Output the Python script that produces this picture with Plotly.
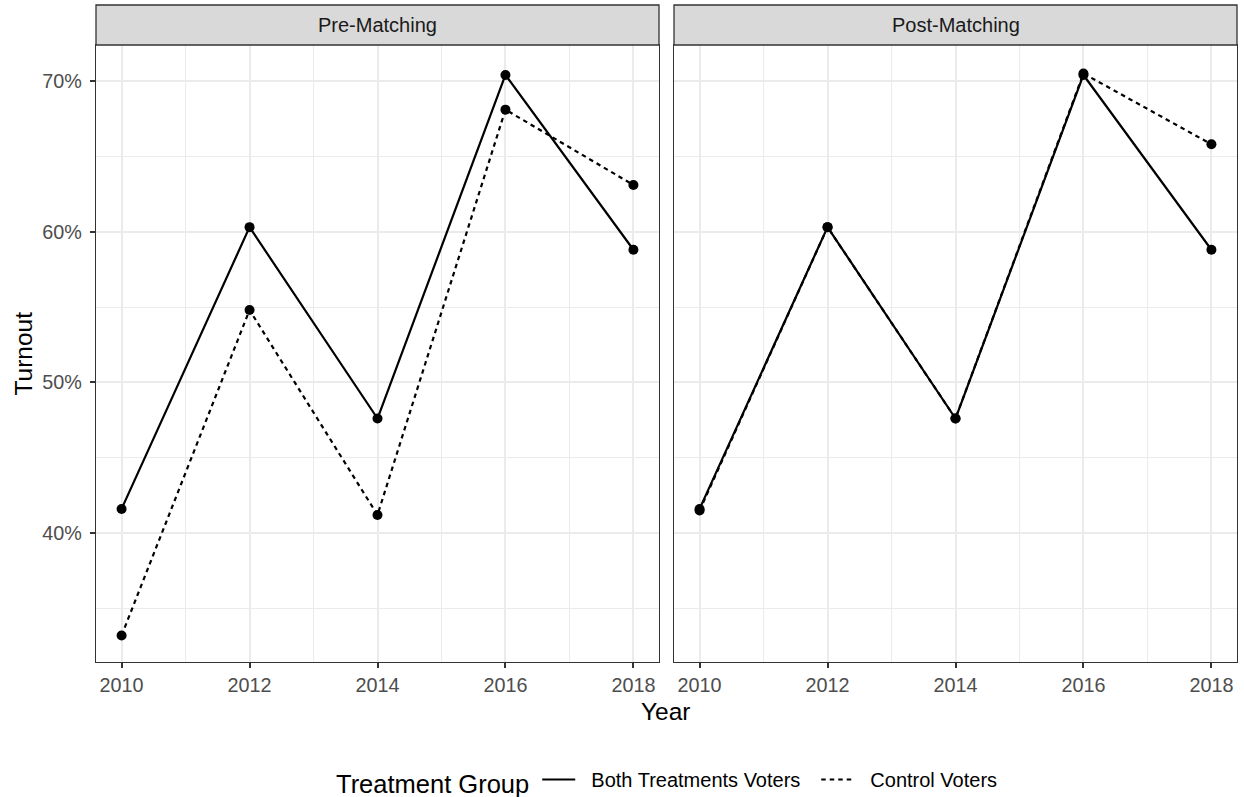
import plotly.graph_objects as go

# Election years and turnout (%) by panel and treatment group
years = [2010, 2012, 2014, 2016, 2018]
panels = ["Pre-Matching", "Post-Matching"]
groups = ["Both Treatments Voters", "Control Voters"]

pre_both = [41.6, 60.3, 47.6, 70.4, 58.8]
pre_control = [33.2, 54.8, 41.2, 68.1, 63.1]
post_both = [41.6, 60.3, 47.6, 70.4, 58.8]
post_control = [41.5, 60.3, 47.6, 70.5, 65.8]

y_ticks = [40, 50, 60, 70]
y_minor = [35, 45, 55, 65]
x_ticks = [2010, 2012, 2014, 2016, 2018]
x_minor = [2011, 2013, 2015, 2017]

W, H = 1244, 797
FONT = "Liberation Sans, Arial, sans-serif"
dash_style = {"Both Treatments Voters": "solid", "Control Voters": "4.5px,4px"}
legend_width = {"Both Treatments Voters": 231, "Control Voters": None}
KEY_PAD = "\u00a0\u00a0"  # space between legend key and its label

series = {
    ("Pre-Matching", "Both Treatments Voters"): pre_both,
    ("Pre-Matching", "Control Voters"): pre_control,
    ("Post-Matching", "Both Treatments Voters"): post_both,
    ("Post-Matching", "Control Voters"): post_control,
}

fig = go.Figure()
for i, panel in enumerate(panels):
    xa = "x" if i == 0 else "x2"
    ya = "y" if i == 0 else "y2"
    for grp in groups:
        vals = series[(panel, grp)]
        fig.add_trace(go.Scatter(
            x=years, y=vals, mode="lines", name=KEY_PAD + grp, legendgroup=grp,
            showlegend=(i == 0), xaxis=xa, yaxis=ya,
            legendwidth=legend_width[grp],
            line=dict(color="black", width=2.2, dash=dash_style[grp]),
        ))
        fig.add_trace(go.Scatter(
            x=years, y=vals, mode="markers", name=grp, legendgroup=grp,
            showlegend=False, xaxis=xa, yaxis=ya,
            marker=dict(color="black", size=10),
        ))

def px_x(p):
    return p / W

def px_y(p):
    return (H - p) / H

panel_left = [96, 674]
panel_right = [659, 1237]
top, bottom = 45, 662

axis_common = dict(
    showline=True, mirror=True, linecolor="#333333", linewidth=1.3,
    showgrid=True, gridcolor="#EBEBEB", gridwidth=2.2, zeroline=False,
    ticks="outside", ticklen=5, tickwidth=2, tickcolor="#333333",
    tickfont=dict(family=FONT, size=19.8, color="#4D4D4D"),
)

for i in range(2):
    xkey = "xaxis" if i == 0 else "xaxis2"
    ykey = "yaxis" if i == 0 else "yaxis2"
    fig.update_layout({
        xkey: dict(
            axis_common,
            domain=[px_x(panel_left[i]), px_x(panel_right[i])],
            range=[2009.6, 2018.4], tickmode="array", tickvals=x_ticks,
            ticktext=[str(t) for t in x_ticks],
            minor=dict(tickmode="array", tickvals=x_minor, showgrid=True,
                       gridcolor="#EBEBEB", gridwidth=1.1, ticks=""),
            anchor="y" if i == 0 else "y2",
        ),
        ykey: dict(
            axis_common,
            domain=[px_y(bottom), px_y(top)],
            range=[31.44, 72.39], tickmode="array", tickvals=y_ticks,
            ticktext=[f"{t}%" for t in y_ticks],
            minor=dict(tickmode="array", tickvals=y_minor, showgrid=True,
                       gridcolor="#EBEBEB", gridwidth=1.1, ticks=""),
            anchor="x" if i == 0 else "x2",
            showticklabels=(i == 0),
            ticks="outside" if i == 0 else "",
            ticklabelstandoff=4,
        ),
    })

shapes = []
annotations = []
for i, panel in enumerate(panels):
    shapes.append(dict(
        type="rect", xref="paper", yref="paper",
        x0=px_x(panel_left[i]), x1=px_x(panel_right[i]),
        y0=px_y(top), y1=px_y(5),
        fillcolor="#D9D9D9", line=dict(color="#333333", width=1.3),
        layer="above",
    ))
    annotations.append(dict(
        text=panel, xref="paper", yref="paper", showarrow=False,
        x=px_x((panel_left[i] + panel_right[i]) / 2), y=px_y(25),
        xanchor="center", yanchor="middle",
        font=dict(family=FONT, size=20, color="#1A1A1A"),
    ))

annotations.append(dict(
    text="Year", xref="paper", yref="paper", showarrow=False,
    x=px_x(666.5), y=px_y(711), xanchor="center", yanchor="middle",
    font=dict(family=FONT, size=24.5, color="black"),
))
annotations.append(dict(
    text="Turnout", xref="paper", yref="paper", showarrow=False,
    x=px_x(23), y=px_y(353.5), xanchor="center", yanchor="middle",
    textangle=-90, font=dict(family=FONT, size=24.5, color="black"),
))

fig.update_layout(
    width=W, height=H,
    margin=dict(l=0, r=0, t=0, b=0, autoexpand=False),
    paper_bgcolor="white", plot_bgcolor="white",
    font=dict(family=FONT),
    shapes=shapes, annotations=annotations,
    legend=dict(
        orientation="h", x=px_x(334), xanchor="left",
        y=px_y(782), yanchor="middle",
        title=dict(text="Treatment Group", side="left",
                   font=dict(family=FONT, size=25.5, color="black")),
        font=dict(family=FONT, size=20, color="black"),
        itemwidth=33, bgcolor="rgba(0,0,0,0)",
    ),
)

fig.write_html("out.html")
